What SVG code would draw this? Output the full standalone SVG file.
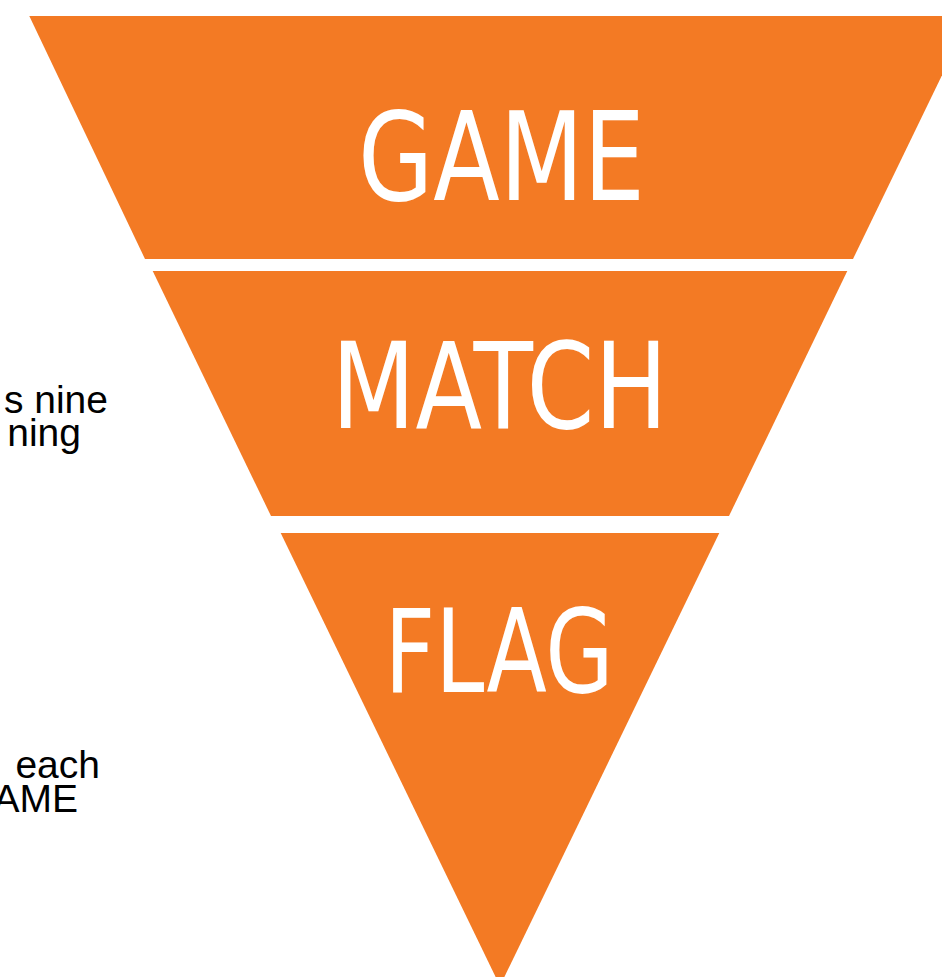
<svg xmlns="http://www.w3.org/2000/svg" width="942" height="977" viewBox="0 0 942 977">
<style>
.band{fill:#F37A24}
.lbl{fill:#FFFFFF;font-family:"Liberation Sans Narrow","DejaVu Sans Condensed","Liberation Sans",sans-serif;font-weight:normal;text-anchor:middle}
.note{fill:#000000;font-family:"Liberation Sans",Arial,sans-serif;font-size:39px;text-anchor:end}
</style>
<rect width="942" height="977" fill="#FFFFFF"/>
<g id="game">
<polygon class="band" points="29.3,16 970.7,16 853,259 145,259"/>
<text class="lbl" x="501.5" y="200" font-size="123" textLength="287" lengthAdjust="spacingAndGlyphs">GAME</text>
</g>
<g id="match">
<polygon class="band" points="152.7,271 847.3,271 729,516 271,516"/>
<text class="lbl" x="499.5" y="428" font-size="119" textLength="336" lengthAdjust="spacingAndGlyphs">MATCH</text>
</g>
<g id="flag">
<polygon class="band" points="280.7,533 719.3,533 500,986"/>
<text class="lbl" x="499" y="692" font-size="116" textLength="229" lengthAdjust="spacingAndGlyphs">FLAG</text>
</g>
<g id="note1">
<text class="note" x="108" y="413">s nine</text>
<text class="note" x="81" y="446">ning</text>
</g>
<g id="note2">
<text class="note" x="100" y="778">each</text>
<text class="note" x="78" y="812">AME</text>
</g>
<g id="connectors"></g>
</svg>
